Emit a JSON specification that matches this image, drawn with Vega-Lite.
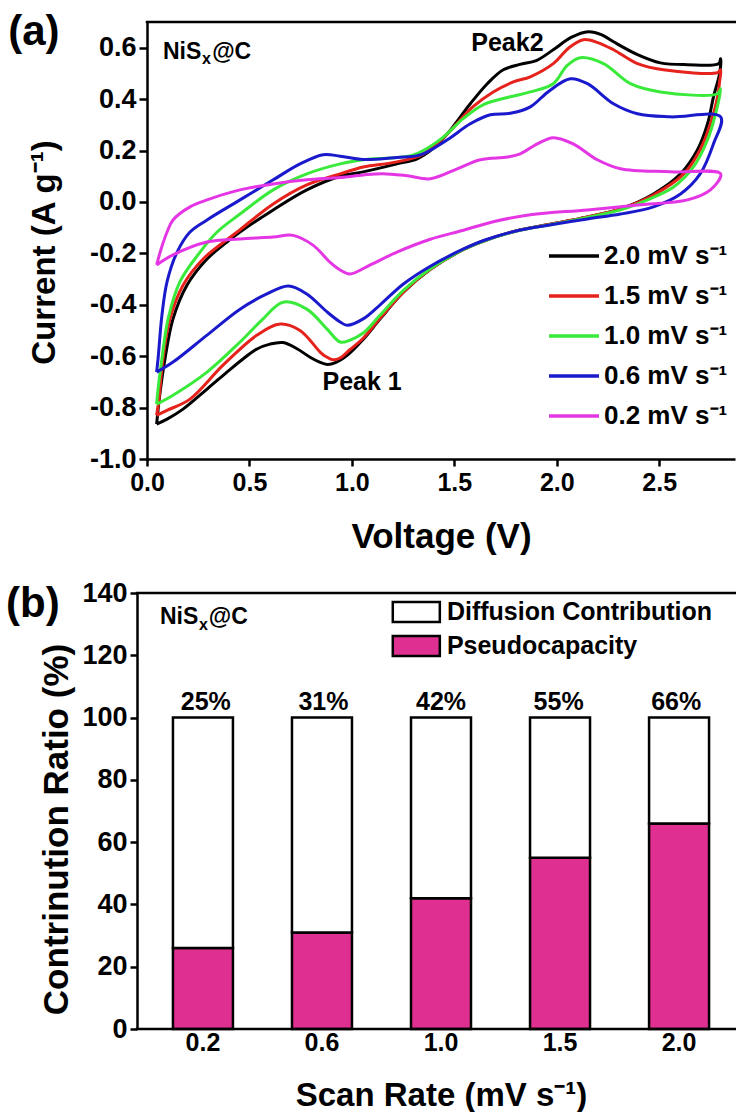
{
"$schema": "https://vega.github.io/schema/vega-lite/v6.json",
"padding": {"left": 6, "top": 11, "right": 0, "bottom": 0},
"spacing": 25,
"resolve": {"scale": {"color": "independent", "fill": "independent"}, "legend": {"color": "independent", "fill": "independent"}},
"config": {
  "font": "Liberation Sans",
  "view": {"stroke": null},
  "axis": {"grid": false, "domainColor": "#000", "domainWidth": 2.5, "tickColor": "#000", "tickWidth": 2.5, "labelFont": "Liberation Sans", "labelFontWeight": "bold", "labelFontSize": 25, "labelColor": "#000", "labelFlush": false, "titleFont": "Liberation Sans", "titleFontWeight": "bold", "titleColor": "#000"},
  "legend": {"labelFont": "Liberation Sans", "labelFontWeight": "bold", "labelColor": "#000", "labelLimit": 400}
},
"vconcat": [
{
  "width": 588, "height": 437,
  "layer": [
    {
      "data": {"values": [
{"s":"2.0","i":0,"v":0.047,"c":-0.864},{"s":"2.0","i":1,"v":0.064,"c":-0.74},{"s":"2.0","i":2,"v":0.088,"c":-0.61},{"s":"2.0","i":3,"v":0.127,"c":-0.455},{"s":"2.0","i":4,"v":0.195,"c":-0.324},{"s":"2.0","i":5,"v":0.293,"c":-0.222},{"s":"2.0","i":6,"v":0.39,"c":-0.156},{"s":"2.0","i":7,"v":0.454,"c":-0.117},{"s":"2.0","i":8,"v":0.616,"c":-0.031},{"s":"2.0","i":9,"v":0.78,"c":0.047},{"s":"2.0","i":10,"v":0.943,"c":0.1},{"s":"2.0","i":11,"v":1.055,"c":0.117},{"s":"2.0","i":12,"v":1.22,"c":0.148},{"s":"2.0","i":13,"v":1.319,"c":0.168},{"s":"2.0","i":14,"v":1.4,"c":0.21},{"s":"2.0","i":15,"v":1.466,"c":0.265},{"s":"2.0","i":16,"v":1.578,"c":0.382},{"s":"2.0","i":17,"v":1.661,"c":0.46},{"s":"2.0","i":18,"v":1.739,"c":0.514},{"s":"2.0","i":19,"v":1.82,"c":0.535},{"s":"2.0","i":20,"v":1.9,"c":0.55},{"s":"2.0","i":21,"v":1.983,"c":0.592},{"s":"2.0","i":22,"v":2.07,"c":0.64},{"s":"2.0","i":23,"v":2.154,"c":0.662},{"s":"2.0","i":24,"v":2.22,"c":0.65},{"s":"2.0","i":25,"v":2.277,"c":0.623},{"s":"2.0","i":26,"v":2.394,"c":0.573},{"s":"2.0","i":27,"v":2.506,"c":0.541},{"s":"2.0","i":28,"v":2.638,"c":0.534},{"s":"2.0","i":29,"v":2.79,"c":0.538},{"s":"2.0","i":30,"v":2.8,"c":0.557},
{"s":"2.0","i":31,"v":2.795,"c":0.5},{"s":"2.0","i":32,"v":2.765,"c":0.409},{"s":"2.0","i":33,"v":2.736,"c":0.304},{"s":"2.0","i":34,"v":2.687,"c":0.203},{"s":"2.0","i":35,"v":2.604,"c":0.109},{"s":"2.0","i":36,"v":2.472,"c":0.031},{"s":"2.0","i":37,"v":2.311,"c":-0.027},{"s":"2.0","i":38,"v":2.15,"c":-0.058},{"s":"2.0","i":39,"v":1.98,"c":-0.085},{"s":"2.0","i":40,"v":1.82,"c":-0.109},{"s":"2.0","i":41,"v":1.65,"c":-0.15},{"s":"2.0","i":42,"v":1.545,"c":-0.185},{"s":"2.0","i":43,"v":1.383,"c":-0.262},{"s":"2.0","i":44,"v":1.25,"c":-0.352},{"s":"2.0","i":45,"v":1.138,"c":-0.455},{"s":"2.0","i":46,"v":1.055,"c":-0.535},{"s":"2.0","i":47,"v":0.98,"c":-0.595},{"s":"2.0","i":48,"v":0.92,"c":-0.625},{"s":"2.0","i":49,"v":0.88,"c":-0.632},{"s":"2.0","i":50,"v":0.84,"c":-0.622},{"s":"2.0","i":51,"v":0.796,"c":-0.604},{"s":"2.0","i":52,"v":0.73,"c":-0.57},{"s":"2.0","i":53,"v":0.664,"c":-0.547},{"s":"2.0","i":54,"v":0.6,"c":-0.553},{"s":"2.0","i":55,"v":0.537,"c":-0.572},{"s":"2.0","i":56,"v":0.47,"c":-0.61},{"s":"2.0","i":57,"v":0.405,"c":-0.652},{"s":"2.0","i":58,"v":0.293,"c":-0.728},{"s":"2.0","i":59,"v":0.176,"c":-0.806},{"s":"2.0","i":60,"v":0.098,"c":-0.845},{"s":"2.0","i":61,"v":0.047,"c":-0.864},
{"s":"1.5","i":0,"v":0.047,"c":-0.83},{"s":"1.5","i":1,"v":0.058,"c":-0.77},{"s":"1.5","i":2,"v":0.078,"c":-0.61},{"s":"1.5","i":3,"v":0.112,"c":-0.455},{"s":"1.5","i":4,"v":0.176,"c":-0.324},{"s":"1.5","i":5,"v":0.274,"c":-0.222},{"s":"1.5","i":6,"v":0.44,"c":-0.117},{"s":"1.5","i":7,"v":0.616,"c":-0.008},{"s":"1.5","i":8,"v":0.78,"c":0.066},{"s":"1.5","i":9,"v":0.943,"c":0.109},{"s":"1.5","i":10,"v":1.055,"c":0.136},{"s":"1.5","i":11,"v":1.22,"c":0.156},{"s":"1.5","i":12,"v":1.35,"c":0.187},{"s":"1.5","i":13,"v":1.466,"c":0.265},{"s":"1.5","i":14,"v":1.59,"c":0.37},{"s":"1.5","i":15,"v":1.69,"c":0.428},{"s":"1.5","i":16,"v":1.788,"c":0.467},{"s":"1.5","i":17,"v":1.871,"c":0.487},{"s":"1.5","i":18,"v":1.983,"c":0.538},{"s":"1.5","i":19,"v":2.06,"c":0.6},{"s":"1.5","i":20,"v":2.13,"c":0.631},{"s":"1.5","i":21,"v":2.2,"c":0.62},{"s":"1.5","i":22,"v":2.277,"c":0.592},{"s":"1.5","i":23,"v":2.394,"c":0.538},{"s":"1.5","i":24,"v":2.52,"c":0.514},{"s":"1.5","i":25,"v":2.785,"c":0.503},{"s":"1.5","i":26,"v":2.8,"c":0.514},
{"s":"1.5","i":27,"v":2.795,"c":0.47},{"s":"1.5","i":28,"v":2.785,"c":0.409},{"s":"1.5","i":29,"v":2.75,"c":0.304},{"s":"1.5","i":30,"v":2.7,"c":0.203},{"s":"1.5","i":31,"v":2.62,"c":0.109},{"s":"1.5","i":32,"v":2.472,"c":0.027},{"s":"1.5","i":33,"v":2.311,"c":-0.027},{"s":"1.5","i":34,"v":2.15,"c":-0.058},{"s":"1.5","i":35,"v":1.98,"c":-0.085},{"s":"1.5","i":36,"v":1.82,"c":-0.109},{"s":"1.5","i":37,"v":1.65,"c":-0.15},{"s":"1.5","i":38,"v":1.545,"c":-0.185},{"s":"1.5","i":39,"v":1.383,"c":-0.262},{"s":"1.5","i":40,"v":1.25,"c":-0.352},{"s":"1.5","i":41,"v":1.138,"c":-0.452},{"s":"1.5","i":42,"v":1.055,"c":-0.53},{"s":"1.5","i":43,"v":0.99,"c":-0.575},{"s":"1.5","i":44,"v":0.94,"c":-0.608},{"s":"1.5","i":45,"v":0.909,"c":-0.614},{"s":"1.5","i":46,"v":0.87,"c":-0.6},{"s":"1.5","i":47,"v":0.845,"c":-0.584},{"s":"1.5","i":48,"v":0.747,"c":-0.5},{"s":"1.5","i":49,"v":0.65,"c":-0.475},{"s":"1.5","i":50,"v":0.537,"c":-0.518},{"s":"1.5","i":51,"v":0.371,"c":-0.635},{"s":"1.5","i":52,"v":0.21,"c":-0.767},{"s":"1.5","i":53,"v":0.1,"c":-0.81},{"s":"1.5","i":54,"v":0.047,"c":-0.83},
{"s":"1.0","i":0,"v":0.047,"c":-0.787},{"s":"1.0","i":1,"v":0.054,"c":-0.728},{"s":"1.0","i":2,"v":0.073,"c":-0.61},{"s":"1.0","i":3,"v":0.103,"c":-0.455},{"s":"1.0","i":4,"v":0.161,"c":-0.31},{"s":"1.0","i":5,"v":0.259,"c":-0.195},{"s":"1.0","i":6,"v":0.342,"c":-0.117},{"s":"1.0","i":7,"v":0.454,"c":-0.047},{"s":"1.0","i":8,"v":0.616,"c":0.047},{"s":"1.0","i":9,"v":0.78,"c":0.109},{"s":"1.0","i":10,"v":0.943,"c":0.148},{"s":"1.0","i":11,"v":1.055,"c":0.164},{"s":"1.0","i":12,"v":1.3,"c":0.183},{"s":"1.0","i":13,"v":1.43,"c":0.242},{"s":"1.0","i":14,"v":1.545,"c":0.325},{"s":"1.0","i":15,"v":1.64,"c":0.378},{"s":"1.0","i":16,"v":1.773,"c":0.409},{"s":"1.0","i":17,"v":1.871,"c":0.428},{"s":"1.0","i":18,"v":1.983,"c":0.46},{"s":"1.0","i":19,"v":2.05,"c":0.53},{"s":"1.0","i":20,"v":2.115,"c":0.561},{"s":"1.0","i":21,"v":2.228,"c":0.538},{"s":"1.0","i":22,"v":2.36,"c":0.46},{"s":"1.0","i":23,"v":2.506,"c":0.428},{"s":"1.0","i":24,"v":2.785,"c":0.421},{"s":"1.0","i":25,"v":2.8,"c":0.44},
{"s":"1.0","i":26,"v":2.775,"c":0.343},{"s":"1.0","i":27,"v":2.736,"c":0.242},{"s":"1.0","i":28,"v":2.667,"c":0.136},{"s":"1.0","i":29,"v":2.57,"c":0.058},{"s":"1.0","i":30,"v":2.443,"c":0.008},{"s":"1.0","i":31,"v":2.311,"c":-0.031},{"s":"1.0","i":32,"v":2.15,"c":-0.06},{"s":"1.0","i":33,"v":1.98,"c":-0.087},{"s":"1.0","i":34,"v":1.82,"c":-0.11},{"s":"1.0","i":35,"v":1.65,"c":-0.15},{"s":"1.0","i":36,"v":1.545,"c":-0.185},{"s":"1.0","i":37,"v":1.383,"c":-0.26},{"s":"1.0","i":38,"v":1.25,"c":-0.345},{"s":"1.0","i":39,"v":1.138,"c":-0.44},{"s":"1.0","i":40,"v":1.055,"c":-0.51},{"s":"1.0","i":41,"v":0.99,"c":-0.538},{"s":"1.0","i":42,"v":0.943,"c":-0.545},{"s":"1.0","i":43,"v":0.879,"c":-0.495},{"s":"1.0","i":44,"v":0.78,"c":-0.417},{"s":"1.0","i":45,"v":0.664,"c":-0.39},{"s":"1.0","i":46,"v":0.56,"c":-0.46},{"s":"1.0","i":47,"v":0.454,"c":-0.545},{"s":"1.0","i":48,"v":0.293,"c":-0.662},{"s":"1.0","i":49,"v":0.127,"c":-0.752},{"s":"1.0","i":50,"v":0.047,"c":-0.787},
{"s":"0.6","i":0,"v":0.047,"c":-0.662},{"s":"0.6","i":1,"v":0.054,"c":-0.61},{"s":"0.6","i":2,"v":0.073,"c":-0.44},{"s":"0.6","i":3,"v":0.098,"c":-0.31},{"s":"0.6","i":4,"v":0.147,"c":-0.195},{"s":"0.6","i":5,"v":0.21,"c":-0.117},{"s":"0.6","i":6,"v":0.293,"c":-0.07},{"s":"0.6","i":7,"v":0.454,"c":0.008},{"s":"0.6","i":8,"v":0.616,"c":0.086},{"s":"0.6","i":9,"v":0.747,"c":0.148},{"s":"0.6","i":10,"v":0.86,"c":0.184},{"s":"0.6","i":11,"v":0.943,"c":0.178},{"s":"0.6","i":12,"v":1.055,"c":0.165},{"s":"0.6","i":13,"v":1.22,"c":0.173},{"s":"0.6","i":14,"v":1.334,"c":0.183},{"s":"0.6","i":15,"v":1.466,"c":0.242},{"s":"0.6","i":16,"v":1.578,"c":0.304},{"s":"0.6","i":17,"v":1.676,"c":0.339},{"s":"0.6","i":18,"v":1.773,"c":0.345},{"s":"0.6","i":19,"v":1.871,"c":0.37},{"s":"0.6","i":20,"v":1.96,"c":0.43},{"s":"0.6","i":21,"v":2.066,"c":0.479},{"s":"0.6","i":22,"v":2.15,"c":0.46},{"s":"0.6","i":23,"v":2.277,"c":0.382},{"s":"0.6","i":24,"v":2.394,"c":0.343},{"s":"0.6","i":25,"v":2.555,"c":0.331},{"s":"0.6","i":26,"v":2.8,"c":0.331},
{"s":"0.6","i":27,"v":2.765,"c":0.226},{"s":"0.6","i":28,"v":2.7,"c":0.109},{"s":"0.6","i":29,"v":2.604,"c":0.031},{"s":"0.6","i":30,"v":2.472,"c":-0.019},{"s":"0.6","i":31,"v":2.311,"c":-0.047},{"s":"0.6","i":32,"v":2.15,"c":-0.066},{"s":"0.6","i":33,"v":1.98,"c":-0.088},{"s":"0.6","i":34,"v":1.822,"c":-0.109},{"s":"0.6","i":35,"v":1.65,"c":-0.148},{"s":"0.6","i":36,"v":1.545,"c":-0.183},{"s":"0.6","i":37,"v":1.383,"c":-0.25},{"s":"0.6","i":38,"v":1.25,"c":-0.32},{"s":"0.6","i":39,"v":1.138,"c":-0.4},{"s":"0.6","i":40,"v":1.055,"c":-0.455},{"s":"0.6","i":41,"v":0.977,"c":-0.48},{"s":"0.6","i":42,"v":0.943,"c":-0.467},{"s":"0.6","i":43,"v":0.879,"c":-0.428},{"s":"0.6","i":44,"v":0.78,"c":-0.358},{"s":"0.6","i":45,"v":0.69,"c":-0.327},{"s":"0.6","i":46,"v":0.58,"c":-0.36},{"s":"0.6","i":47,"v":0.454,"c":-0.417},{"s":"0.6","i":48,"v":0.293,"c":-0.518},{"s":"0.6","i":49,"v":0.127,"c":-0.623},{"s":"0.6","i":50,"v":0.047,"c":-0.662},
{"s":"0.2","i":0,"v":0.047,"c":-0.245},{"s":"0.2","i":1,"v":0.07,"c":-0.18},{"s":"0.2","i":2,"v":0.098,"c":-0.117},{"s":"0.2","i":3,"v":0.127,"c":-0.07},{"s":"0.2","i":4,"v":0.21,"c":-0.019},{"s":"0.2","i":5,"v":0.293,"c":0.008},{"s":"0.2","i":6,"v":0.454,"c":0.047},{"s":"0.2","i":7,"v":0.616,"c":0.07},{"s":"0.2","i":8,"v":0.78,"c":0.086},{"s":"0.2","i":9,"v":0.943,"c":0.095},{"s":"0.2","i":10,"v":1.055,"c":0.105},{"s":"0.2","i":11,"v":1.15,"c":0.11},{"s":"0.2","i":12,"v":1.27,"c":0.102},{"s":"0.2","i":13,"v":1.383,"c":0.09},{"s":"0.2","i":14,"v":1.514,"c":0.129},{"s":"0.2","i":15,"v":1.627,"c":0.164},{"s":"0.2","i":16,"v":1.76,"c":0.175},{"s":"0.2","i":17,"v":1.822,"c":0.187},{"s":"0.2","i":18,"v":1.905,"c":0.226},{"s":"0.2","i":19,"v":1.983,"c":0.25},{"s":"0.2","i":20,"v":2.08,"c":0.226},{"s":"0.2","i":21,"v":2.198,"c":0.164},{"s":"0.2","i":22,"v":2.311,"c":0.129},{"s":"0.2","i":23,"v":2.555,"c":0.117},{"s":"0.2","i":24,"v":2.8,"c":0.109},
{"s":"0.2","i":25,"v":2.75,"c":0.047},{"s":"0.2","i":26,"v":2.638,"c":0.008},{"s":"0.2","i":27,"v":2.394,"c":-0.012},{"s":"0.2","i":28,"v":2.15,"c":-0.031},{"s":"0.2","i":29,"v":1.871,"c":-0.05},{"s":"0.2","i":30,"v":1.7,"c":-0.075},{"s":"0.2","i":31,"v":1.545,"c":-0.11},{"s":"0.2","i":32,"v":1.383,"c":-0.145},{"s":"0.2","i":33,"v":1.22,"c":-0.195},{"s":"0.2","i":34,"v":1.09,"c":-0.245},{"s":"0.2","i":35,"v":0.99,"c":-0.28},{"s":"0.2","i":36,"v":0.943,"c":-0.265},{"s":"0.2","i":37,"v":0.894,"c":-0.235},{"s":"0.2","i":38,"v":0.81,"c":-0.168},{"s":"0.2","i":39,"v":0.713,"c":-0.13},{"s":"0.2","i":40,"v":0.616,"c":-0.136},{"s":"0.2","i":41,"v":0.454,"c":-0.144},{"s":"0.2","i":42,"v":0.293,"c":-0.156},{"s":"0.2","i":43,"v":0.127,"c":-0.206},{"s":"0.2","i":44,"v":0.047,"c":-0.245}
      ]},
      "mark": {"type": "line", "strokeWidth": 3, "interpolate": "catmull-rom"},
      "encoding": {
        "x": {"field": "v", "type": "quantitative", "scale": {"domain": [0, 2.87], "nice": false, "zero": false},
              "axis": {"values": [0, 0.5, 1, 1.5, 2, 2.5], "format": ".1f", "tickSize": 7, "labelPadding": 4, "title": "Voltage (V)", "titleFontSize": 35, "titlePadding": 24}},
        "y": {"field": "c", "type": "quantitative", "scale": {"domain": [-1, 0.7], "nice": false, "zero": false},
              "axis": {"values": [-1, -0.8, -0.6, -0.4, -0.2, 0, 0.2, 0.4, 0.6], "labelExpr": "replace(format(datum.value, '.1f'), '\u2212', '-')", "labelFontSize": 27, "tickSize": 8, "labelPadding": 3, "title": "Current (A g\u207b\u00b9)", "titleFontSize": 33, "titlePadding": 28, "titleY": 230}},
        "color": {"field": "s", "type": "nominal",
                  "scale": {"domain": ["2.0", "1.5", "1.0", "0.6", "0.2"], "range": ["#000000", "#e5221b", "#3aea3a", "#1a1acc", "#e436e4"]},
                  "legend": {"orient": "none", "legendX": 400, "legendY": 207, "title": null, "symbolType": "stroke", "symbolStrokeWidth": 3.5, "symbolSize": 2500, "labelFontSize": 26, "labelOffset": 3, "rowPadding": -1.5, "padding": 0, "labelExpr": "datum.label + ' mV s\u207b\u00b9'"}},
        "order": {"field": "i", "type": "quantitative"}
      }
    },
    {"data": {"values": [{}]}, "mark": {"type": "rule", "stroke": "#000", "strokeWidth": 2.5, "strokeCap": "square"}, "encoding": {"x": {"datum": 0}, "x2": {"datum": 2.87}, "y": {"datum": 0.7}}},
    {"data": {"values": [{}]}, "mark": {"type": "text", "text": "(a)", "fontSize": 42, "fontWeight": "bold", "align": "center", "baseline": "middle"}, "encoding": {"x": {"datum": -0.552}, "y": {"datum": 0.66}}},
    {"data": {"values": [{}]}, "mark": {"type": "text", "text": "NiS", "fontSize": 23, "fontWeight": "bold", "align": "left", "baseline": "alphabetic"}, "encoding": {"x": {"datum": 0.078}, "y": {"datum": 0.557}}},
    {"data": {"values": [{}]}, "mark": {"type": "text", "text": "x", "fontSize": 16, "fontWeight": "bold", "align": "left", "baseline": "alphabetic"}, "encoding": {"x": {"datum": 0.269}, "y": {"datum": 0.535}}},
    {"data": {"values": [{}]}, "mark": {"type": "text", "text": "@C", "fontSize": 23, "fontWeight": "bold", "align": "left", "baseline": "alphabetic"}, "encoding": {"x": {"datum": 0.318}, "y": {"datum": 0.557}}},
    {"data": {"values": [{}]}, "mark": {"type": "text", "text": "Peak2", "fontSize": 25, "fontWeight": "bold", "align": "center", "baseline": "alphabetic"}, "encoding": {"x": {"datum": 1.759}, "y": {"datum": 0.586}}},
    {"data": {"values": [{}]}, "mark": {"type": "text", "text": "Peak 1", "fontSize": 25, "fontWeight": "bold", "align": "center", "baseline": "alphabetic"}, "encoding": {"x": {"datum": 1.05}, "y": {"datum": -0.732}}}
  ]
},
{
  "width": 588, "height": 436,
  "data": {"values": [
    {"rate": "0.2", "part": "Pseudocapacity", "val": 26, "k": 1, "lbl": "25%"},
    {"rate": "0.2", "part": "Diffusion Contribution", "val": 74, "k": 2, "lbl": ""},
    {"rate": "0.6", "part": "Pseudocapacity", "val": 31, "k": 1, "lbl": "31%"},
    {"rate": "0.6", "part": "Diffusion Contribution", "val": 69, "k": 2, "lbl": ""},
    {"rate": "1.0", "part": "Pseudocapacity", "val": 42, "k": 1, "lbl": "42%"},
    {"rate": "1.0", "part": "Diffusion Contribution", "val": 58, "k": 2, "lbl": ""},
    {"rate": "1.5", "part": "Pseudocapacity", "val": 55, "k": 1, "lbl": "55%"},
    {"rate": "1.5", "part": "Diffusion Contribution", "val": 45, "k": 2, "lbl": ""},
    {"rate": "2.0", "part": "Pseudocapacity", "val": 66, "k": 1, "lbl": "66%"},
    {"rate": "2.0", "part": "Diffusion Contribution", "val": 34, "k": 2, "lbl": ""}
  ]},
  "layer": [
    {
      "mark": {"type": "bar", "stroke": "#000", "strokeWidth": 2.5},
      "encoding": {
        "x": {"field": "rate", "type": "ordinal", "sort": null, "scale": {"paddingInner": 0.496, "paddingOuter": 0.218},
              "axis": {"labelAngle": 0, "ticks": false, "domain": false, "labelPadding": 1, "title": "Scan Rate (mV s\u207b\u00b9)", "titleFontSize": 33, "titlePadding": 24}},
        "y": {"field": "val", "type": "quantitative", "stack": "zero", "scale": {"domain": [0, 140], "nice": false},
              "axis": {"values": [0, 20, 40, 60, 80, 100, 120, 140], "offset": 10, "labelFontSize": 27, "tickSize": 7, "labelPadding": 3, "title": "Contrinution Ratio (%)", "titleFontSize": 35, "titlePadding": 7, "titleY": 236}},
        "fill": {"field": "part", "type": "nominal", "scale": {"domain": ["Diffusion Contribution", "Pseudocapacity"], "range": ["#ffffff", "#df2f91"]}, "legend": null},
        "order": {"field": "k", "type": "quantitative"}
      }
    },
    {
      "transform": [{"filter": "datum.k == 1"}],
      "mark": {"type": "text", "fontSize": 25, "fontWeight": "bold", "baseline": "alphabetic", "dy": -8},
      "encoding": {
        "x": {"field": "rate", "type": "ordinal", "sort": null, "scale": {"paddingInner": 0.496, "paddingOuter": 0.218}, "axis": null},
        "y": {"datum": 100},
        "text": {"field": "lbl"}
      }
    },
    {"data": {"values": [{}]}, "mark": {"type": "rule", "stroke": "#000", "strokeWidth": 2.5, "strokeCap": "square"}, "encoding": {"x": {"datum": -0.017, "type": "quantitative", "scale": {"domain": [0, 1]}, "axis": null}, "x2": {"datum": 1}, "y": {"datum": 0}}},
    {"data": {"values": [{}]}, "mark": {"type": "rule", "stroke": "#000", "strokeWidth": 2.5, "strokeCap": "square"}, "encoding": {"x": {"datum": -0.017, "type": "quantitative", "scale": {"domain": [0, 1]}, "axis": null}, "x2": {"datum": 1}, "y": {"datum": 140}}},
    {"data": {"values": [{}]}, "mark": {"type": "rect", "fill": "#ffffff", "stroke": "#000", "strokeWidth": 2.5}, "encoding": {"x": {"datum": 0.418, "type": "quantitative", "scale": {"domain": [0, 1]}, "axis": null}, "x2": {"datum": 0.498}, "y": {"datum": 130.7}, "y2": {"datum": 137.1}}},
    {"data": {"values": [{}]}, "mark": {"type": "rect", "fill": "#df2f91", "stroke": "#000", "strokeWidth": 2.5}, "encoding": {"x": {"datum": 0.418, "type": "quantitative", "scale": {"domain": [0, 1]}, "axis": null}, "x2": {"datum": 0.498}, "y": {"datum": 119.8}, "y2": {"datum": 126.2}}},
    {"data": {"values": [{}]}, "mark": {"type": "text", "text": "Diffusion Contribution", "fontSize": 25, "fontWeight": "bold", "align": "left", "baseline": "middle"}, "encoding": {"x": {"datum": 0.51, "type": "quantitative", "scale": {"domain": [0, 1]}, "axis": null}, "y": {"datum": 133.9}}},
    {"data": {"values": [{}]}, "mark": {"type": "text", "text": "Pseudocapacity", "fontSize": 25, "fontWeight": "bold", "align": "left", "baseline": "middle"}, "encoding": {"x": {"datum": 0.51, "type": "quantitative", "scale": {"domain": [0, 1]}, "axis": null}, "y": {"datum": 123.0}}},
    {"data": {"values": [{}]}, "mark": {"type": "text", "text": "(b)", "fontSize": 42, "fontWeight": "bold", "align": "center", "baseline": "middle"}, "encoding": {"x": {"datum": -0.194, "type": "quantitative", "scale": {"domain": [0, 1]}, "axis": null}, "y": {"datum": 136.5}}},
    {"data": {"values": [{}]}, "mark": {"type": "text", "text": "NiS", "fontSize": 23, "fontWeight": "bold", "align": "left", "baseline": "alphabetic"}, "encoding": {"x": {"datum": 0.022, "type": "quantitative", "scale": {"domain": [0, 1]}, "axis": null}, "y": {"datum": 130}}},
    {"data": {"values": [{}]}, "mark": {"type": "text", "text": "x", "fontSize": 16, "fontWeight": "bold", "align": "left", "baseline": "alphabetic"}, "encoding": {"x": {"datum": 0.0884, "type": "quantitative", "scale": {"domain": [0, 1]}, "axis": null}, "y": {"datum": 128}}},
    {"data": {"values": [{}]}, "mark": {"type": "text", "text": "@C", "fontSize": 23, "fontWeight": "bold", "align": "left", "baseline": "alphabetic"}, "encoding": {"x": {"datum": 0.105, "type": "quantitative", "scale": {"domain": [0, 1]}, "axis": null}, "y": {"datum": 130}}}
  ],
  "resolve": {"scale": {"x": "independent"}}
}
]
}
